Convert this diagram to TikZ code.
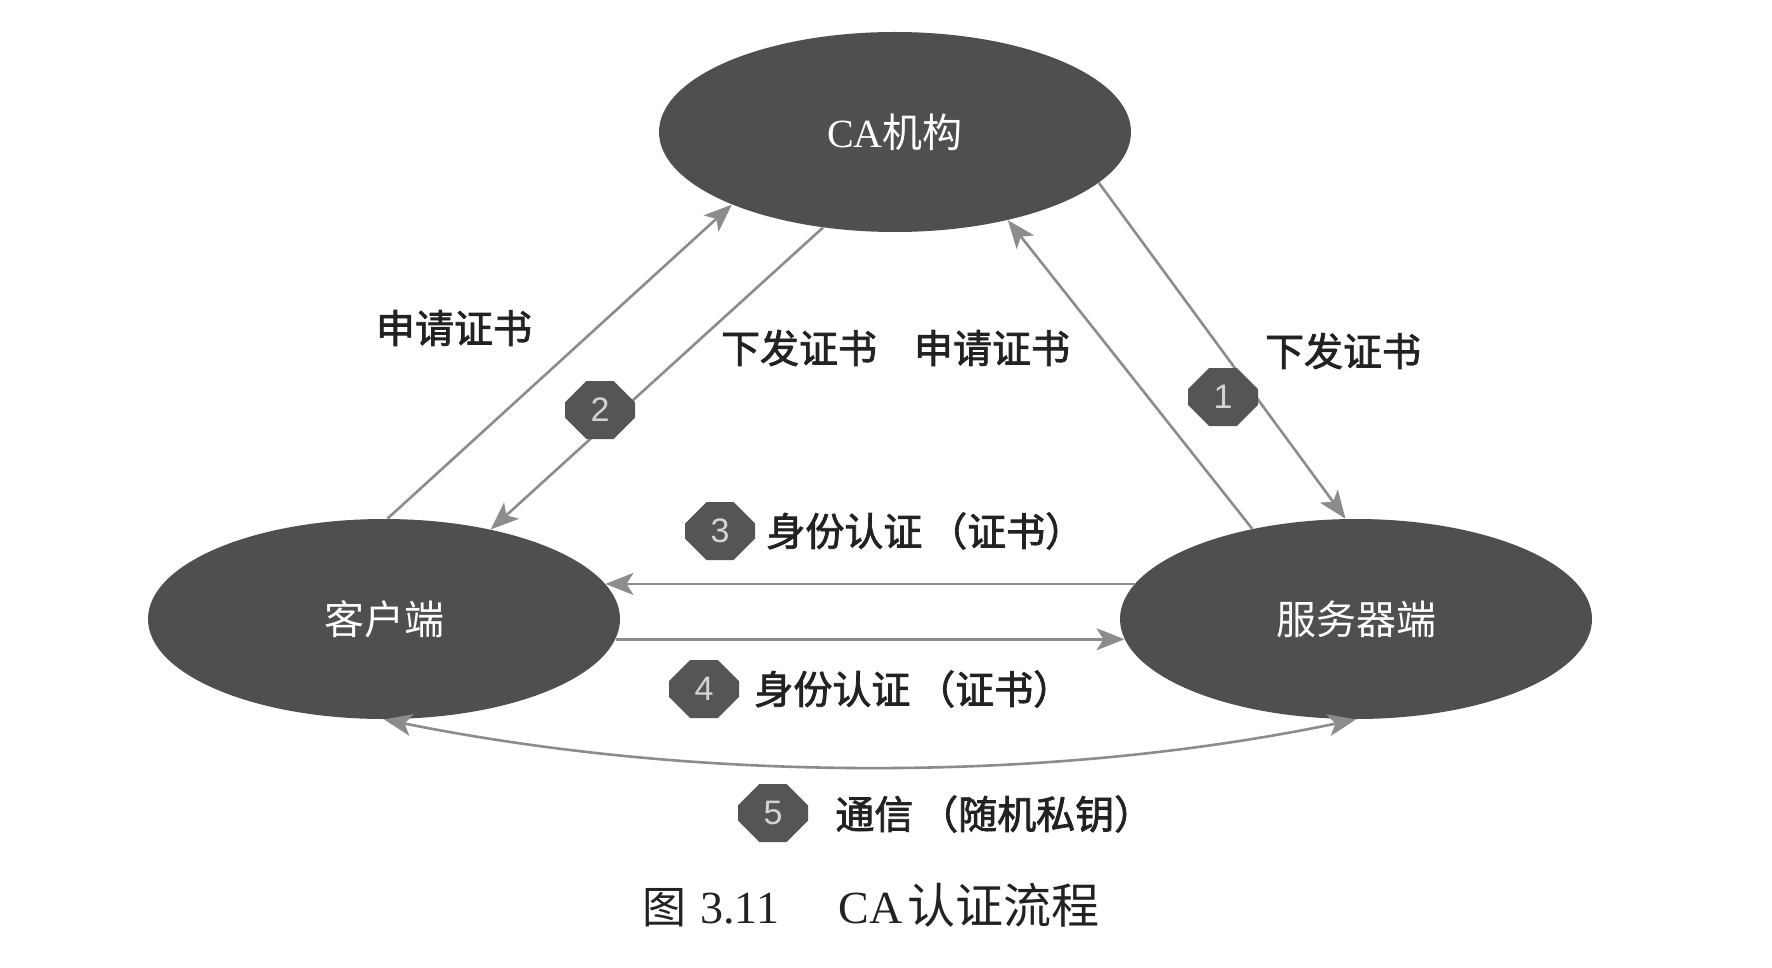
\documentclass[tikz,border=0pt]{standalone}
\usepackage{fontspec}
\setmainfont{Liberation Serif}
\newfontfamily\cjk{Noto Sans CJK SC}
\newfontfamily\cjkb[FakeBold=2]{Noto Sans CJK SC}
\newfontfamily\badgefont{Liberation Sans}
\usetikzlibrary{shapes.geometric,shapes.misc,arrows.meta}
\definecolor{ellfill}{HTML}{4F4F4F}
\definecolor{linecol}{HTML}{8C8C8C}
\definecolor{badgefill}{HTML}{555555}
\definecolor{badgetext}{HTML}{D4D4D4}
\definecolor{lbltext}{HTML}{222222}
\tikzset{
  ell/.style={ellipse, fill=ellfill, minimum width=236pt, minimum height=100pt,
    inner sep=0pt, text=white, font=\fontsize{20pt}{22pt}\selectfont},
  conn/.style={draw=linecol, line width=1.3pt,
    -{Stealth[length=14pt,width=11pt,inset=3.5pt]}},
  conn2/.style={draw=linecol, line width=1.3pt,
    {Stealth[length=14pt,width=11pt,inset=3.5pt]}-{Stealth[length=14pt,width=11pt,inset=3.5pt]}},
  badge/.style={chamfered rectangle, chamfered rectangle xsep=8pt,
    chamfered rectangle ysep=7pt, fill=badgefill,
    minimum width=35pt, minimum height=29pt, inner sep=0pt, text=badgetext,
    font=\badgefont\fontsize{17pt}{17pt}\selectfont},
  lbl/.style={font=\cjkb\fontsize{19.5pt}{21pt}\selectfont, text=lbltext, inner sep=0pt},
  captext/.style={font=\fontsize{23pt}{25pt}\selectfont, text=lbltext, inner sep=0pt},
}
\begin{document}
\begin{tikzpicture}[x=0.5pt,y=-0.5pt]
\useasboundingbox[fill=white] (0,0) rectangle (1772,968);
% ellipses
\node[ell] (ca) at (895,132) {CA{\cjk 机构}};
\node[ell] (cl) at (384,619) {\cjk 客户端};
\node[ell] (sv) at (1356,619) {\cjk 服务器端};
% connectors
\draw[conn] (cl.88) -- (ca.204);
\draw[conn] (ca.233) -- (cl.40);
\draw[conn] (sv.139) -- (ca.322);
\draw[conn] (ca.346) -- (sv.96);
\draw[conn] (sv.171) -- (cl.9);
\draw[conn] (cl.355) -- (sv.185);
\draw[conn2] (cl.south) .. controls (700,783) and (1050,783) .. (sv.south);
% labels
\node[lbl] (l1) at (454,328) {申请证书};
\node[lbl] (l2) at (799,348) {下发证书};
\node[lbl] (l3) at (992,348) {申请证书};
\node[lbl] (l4) at (1343,351) {下发证书};
\node[lbl,anchor=west] (l5) at (766,531) {身份认证\kern0.15em（证书）};
\node[lbl,anchor=west] (l6) at (754,689) {身份认证\kern0.15em（证书）};
\node[lbl,anchor=west] (l7) at (835,814) {通信\kern0.15em（随机私钥）};
% badges
\node[badge] (b1) at (1223,397) {1};
\node[badge] (b2) at (600,410) {2};
\node[badge] (b3) at (720,531) {3};
\node[badge] (b4) at (704,689) {4};
\node[badge] (b5) at (773,813) {5};
% caption
\node[captext,anchor=west] (caption) at (642,905) {{\cjk\fontsize{22pt}{25pt}\selectfont 图}\hspace{0.3em}3.11\hspace{1.3em}CA\hspace{0.1em}{\cjk\fontsize{24pt}{25pt}\selectfont 认证流程}};
\end{tikzpicture}
\end{document}
